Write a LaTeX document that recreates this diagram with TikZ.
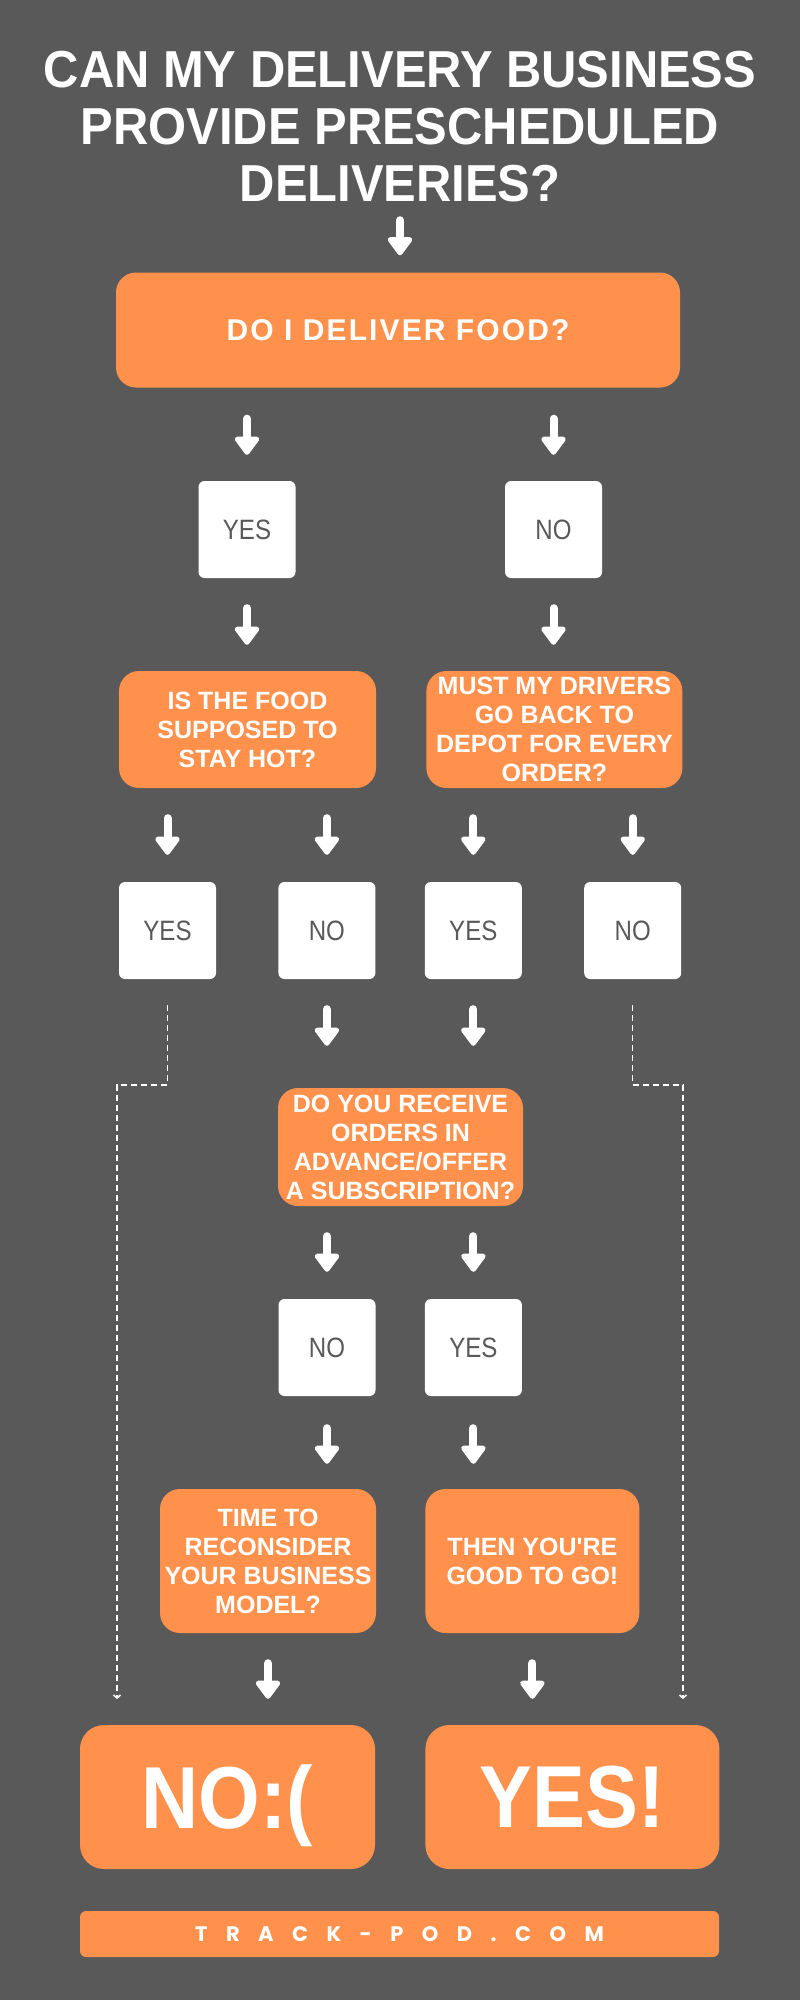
\documentclass[tikz,border=0pt]{standalone}
\usepackage{fontspec}
\setmainfont{Liberation Sans}[Ligatures=TeXOff]
\newfontfamily\titlefont[FakeStretch=0.94]{Liberation Sans}
\newfontfamily\bigfont[FakeStretch=0.9]{Liberation Sans}
\newfontfamily\narrowfont[FakeStretch=0.86]{Liberation Sans}
\newfontfamily\spacedfont[LetterSpace=7]{Liberation Sans}
\newfontfamily\sitefont[LetterSpace=88]{Poppins}
\usetikzlibrary{arrows.meta,positioning}
\definecolor{bgGray}{HTML}{595959}
\definecolor{podOrange}{HTML}{FF914D}

\begin{document}
\begin{tikzpicture}[
    x=1pt, y=-1pt,
    orangeNode/.style={rectangle, rounded corners=20pt, fill=podOrange, text=white, align=center, inner sep=0pt, font=\bfseries\fontsize{25}{29}\selectfont},
    answerNode/.style={rectangle, rounded corners=6pt, fill=white, text=bgGray, minimum width=97pt, minimum height=97pt, inner sep=0pt, font=\narrowfont\fontsize{28}{32}\selectfont},
    bigNode/.style={rectangle, rounded corners=24pt, fill=podOrange, text=white, minimum width=295pt, minimum height=144pt, inner sep=0pt, text depth=0pt, font=\bigfont\bfseries\fontsize{88}{96}\selectfont},
    arrow/.style={-{Triangle[width=28pt, length=20pt, round]}, white, line width=8pt, line cap=round},
    dashArrow/.style={-{Straight Barb[length=3pt, width=7pt]}, white, line width=1.5pt, dash pattern=on 6pt off 4pt}
  ]

  \fill[bgGray] (0,0) rectangle (800,2000);

  % Title and first question
  \node[align=center, anchor=north, inner sep=0pt, text=white, font=\titlefont\bfseries\fontsize{52}{57}\selectfont] (title) at (400,51)
    {CAN MY DELIVERY BUSINESS\\PROVIDE PRESCHEDULED\\DELIVERIES?};
  \node[orangeNode, minimum width=564pt, minimum height=115pt, font=\spacedfont\bfseries\fontsize{30}{36}\selectfont] (food) at (398,330) {DO I DELIVER FOOD?};

  \node[answerNode] (yes1) at (247,529.5) {YES};
  \node[answerNode] (no1) at (553.5,529.5) {NO};

  % Second level
  \node[orangeNode, minimum width=257pt, minimum height=117pt] (hot) at (247.5,729.5) {IS THE FOOD\\SUPPOSED TO\\STAY HOT?};
  \node[orangeNode, minimum width=256pt, minimum height=117pt, right=50pt of hot] (depot) {MUST MY DRIVERS\\GO BACK TO\\DEPOT FOR EVERY\\ORDER?};

  \node[answerNode] (hotyes) at (167.5,930.5) {YES};
  \node[answerNode, right=62pt of hotyes] (hotno) {NO};
  \node[answerNode, right=49pt of hotno] (depotyes) {YES};
  \node[answerNode, right=62pt of depotyes] (depotno) {NO};

  % Third level
  \node[orangeNode, minimum width=245pt, minimum height=118pt] (advance) at (400.5,1147) {DO YOU RECEIVE\\ORDERS IN\\ADVANCE/OFFER\\A SUBSCRIPTION?};

  \node[answerNode] (advno) at (327,1347.5) {NO};
  \node[answerNode, right=49pt of advno] (advyes) {YES};

  \node[orangeNode, minimum width=216pt, minimum height=144pt] (rethink) at (268,1561) {TIME TO\\RECONSIDER\\YOUR BUSINESS\\MODEL?};
  \node[orangeNode, minimum width=214pt, minimum height=144pt, right=49pt of rethink] (good) {THEN YOU'RE\\GOOD TO GO!};

  % Outcomes
  \node[bigNode] (bigno) at (227.5,1797) {NO:(};
  \node[bigNode, minimum width=294pt, right=50pt of bigno] (bigyes) {YES!};

  \node[rectangle, rounded corners=6pt, fill=podOrange, text=white, minimum width=639pt, minimum height=46pt, inner sep=0pt, font=\sitefont\bfseries\fontsize{21}{24}\selectfont] (site) at (399.5,1934) {TRACK-POD.COM};

  % Arrows
  \draw[arrow, shorten <=18pt, shorten >=17pt] (title.south) -- (title.south |- food.north);
  \draw[arrow, shorten <=31pt, shorten >=26pt] (yes1 |- food.south) -- (yes1.north);
  \draw[arrow, shorten <=31pt, shorten >=26pt] (no1 |- food.south) -- (no1.north);
  \draw[arrow, shorten <=30pt, shorten >=26pt] (yes1.south) -- (yes1.south |- hot.north);
  \draw[arrow, shorten <=30pt, shorten >=26pt] (no1.south) -- (no1.south |- depot.north);
  \draw[arrow, shorten <=30pt, shorten >=27pt] (hotyes |- hot.south) -- (hotyes.north);
  \draw[arrow, shorten <=30pt, shorten >=27pt] (hotno |- hot.south) -- (hotno.north);
  \draw[arrow, shorten <=30pt, shorten >=27pt] (depotyes |- depot.south) -- (depotyes.north);
  \draw[arrow, shorten <=30pt, shorten >=27pt] (depotno |- depot.south) -- (depotno.north);
  \draw[arrow, shorten <=30pt, shorten >=42pt] (hotno.south) -- (hotno.south |- advance.north);
  \draw[arrow, shorten <=30pt, shorten >=42pt] (depotyes.south) -- (depotyes.south |- advance.north);
  \draw[arrow, shorten <=30pt, shorten >=27pt] (advno |- advance.south) -- (advno.north);
  \draw[arrow, shorten <=30pt, shorten >=27pt] (advyes |- advance.south) -- (advyes.north);
  \draw[arrow, shorten <=32pt, shorten >=25pt] (advno.south) -- (advno.south |- rethink.north);
  \draw[arrow, shorten <=32pt, shorten >=25pt] (advyes.south) -- (advyes.south |- good.north);
  \draw[arrow, shorten <=30pt, shorten >=26pt] (rethink.south) -- (rethink.south |- bigno.north);
  \draw[arrow, shorten <=30pt, shorten >=26pt] (good.south) -- (good.south |- bigyes.north);

  % Dashed shortcuts
  \coordinate (leftTurn) at (117,1085);
  \coordinate (leftEnd) at (117,1699);
  \coordinate (rightTurn) at (683,1085);
  \coordinate (rightEnd) at (683,1699);
  \draw[dashArrow, shorten <=26pt] (hotyes.south) |- (leftTurn) -- (leftEnd);
  \draw[dashArrow, shorten <=26pt] (depotno.south) |- (rightTurn) -- (rightEnd);

\end{tikzpicture}
\end{document}
